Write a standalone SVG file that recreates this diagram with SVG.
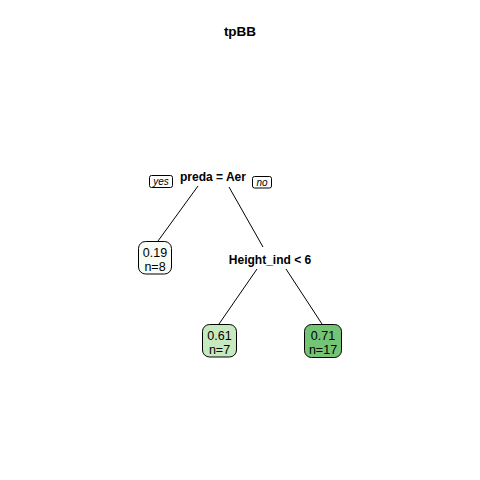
<svg xmlns="http://www.w3.org/2000/svg" width="480" height="480" viewBox="0 0 480 480">
<style>
text{font-family:"Liberation Sans",Arial,sans-serif;fill:#000}
.title{font-size:13.5px;font-weight:bold;text-anchor:middle}
.split{font-size:12px;font-weight:bold;text-anchor:middle}
.leaf{font-size:12.5px;text-anchor:middle}
.lab{font-size:10px;font-style:italic;text-anchor:middle}
.box{stroke:#000;stroke-width:1}
.yn{fill:#fff;stroke:#000;stroke-width:1}
.edge{stroke:#000;stroke-width:1;fill:none}
</style>
<rect width="480" height="480" fill="#fff"/>
<text class="title" x="240" y="36">tpBB</text>
<g id="connectors">
<line class="edge" x1="198" y1="186" x2="158" y2="241"/>
<line class="edge" x1="229" y1="187" x2="263" y2="247"/>
<line class="edge" x1="257" y1="269" x2="219" y2="324"/>
<line class="edge" x1="286" y1="269" x2="322" y2="324"/>
</g>
<g id="node-root">
<text class="split" x="213" y="181">preda = Aer</text>
<rect class="yn" x="149.5" y="175.5" width="23" height="12" rx="2"/>
<text class="lab" x="161" y="185">yes</text>
<rect class="yn" x="252.5" y="176.5" width="19" height="11.5" rx="2"/>
<text class="lab" x="262" y="185.5">no</text>
</g>
<g id="node-height">
<text class="split" x="270" y="264">Height_ind &lt; 6</text>
</g>
<g id="leaf-019">
<rect class="box" x="138.5" y="241.5" width="33" height="32.5" rx="7" fill="#f7fcf5"/>
<text class="leaf" x="155" y="257">0.19</text>
<text class="leaf" x="155" y="271">n=8</text>
</g>
<g id="leaf-061">
<rect class="box" x="202.5" y="324.5" width="34" height="32.5" rx="7" fill="#c7e9c0"/>
<text class="leaf" x="219.5" y="340">0.61</text>
<text class="leaf" x="219.5" y="354">n=7</text>
</g>
<g id="leaf-071">
<rect class="box" x="304.5" y="324.5" width="37" height="33" rx="7" fill="#74c476"/>
<text class="leaf" x="323" y="340">0.71</text>
<text class="leaf" x="323" y="354">n=17</text>
</g>
</svg>
